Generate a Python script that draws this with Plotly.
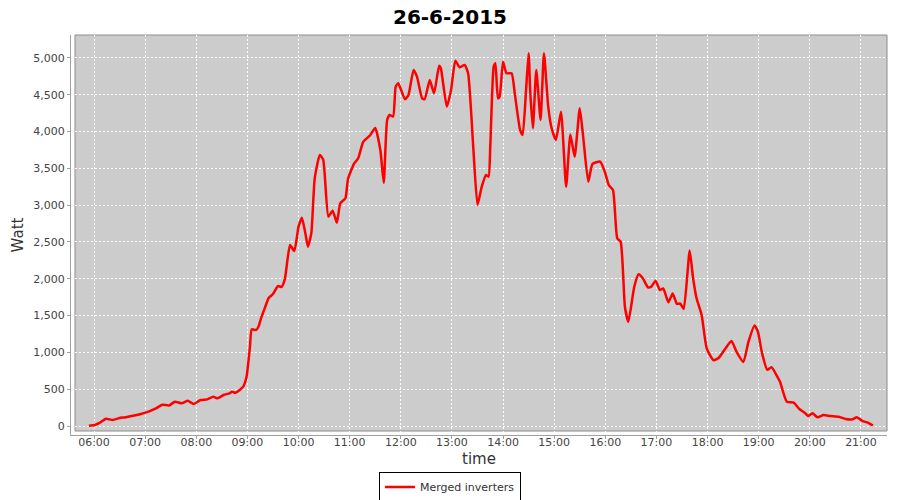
import plotly.graph_objects as go

DAY = "2015-06-26"

times = [
    "05:54", "06:01", "06:07", "06:14", "06:22", "06:31", "06:36", "06:42", "06:54",
    "07:04", "07:12", "07:20", "07:28", "07:35", "07:43", "07:50", "07:57",
    "08:05", "08:13", "08:20", "08:25", "08:32", "08:39", "08:42", "08:46", "08:51", "08:55", "08:59",
    "09:03", "09:05", "09:10", "09:13", "09:16", "09:21", "09:25", "09:30", "09:36", "09:40", "09:44", "09:50", "09:55",
    "10:00", "10:04", "10:08", "10:11", "10:15", "10:19", "10:25", "10:29", "10:35", "10:40", "10:45", "10:49", "10:55", "10:58",
    "11:05", "11:10", "11:16", "11:24", "11:30", "11:36", "11:40", "11:44", "11:47", "11:51", "11:54", "11:57",
    "12:05", "12:09", "12:15", "12:19", "12:25", "12:28", "12:34", "12:39", "12:45", "12:47", "12:54", "12:59",
    "13:04", "13:09", "13:15", "13:19", "13:25", "13:30", "13:35", "13:40", "13:43", "13:45", "13:49", "13:51", "13:54", "13:56",
    "14:00", "14:04", "14:10", "14:14", "14:20", "14:23", "14:27", "14:30", "14:32", "14:35", "14:39", "14:44", "14:48", "14:53", "14:57",
    "15:02", "15:08", "15:14", "15:19", "15:24", "15:30", "15:34", "15:40", "15:45", "15:54",
    "16:00", "16:04", "16:09", "16:14", "16:18", "16:23", "16:27", "16:34", "16:39", "16:44", "16:50", "16:54", "16:59",
    "17:04", "17:08", "17:14", "17:19", "17:24", "17:28", "17:32", "17:39", "17:43", "17:47", "17:53", "17:59",
    "18:07", "18:13", "18:21", "18:28", "18:34", "18:42", "18:48", "18:55", "18:59",
    "19:04", "19:10", "19:15", "19:20", "19:25", "19:33", "19:41", "19:48", "19:54", "19:58",
    "20:03", "20:09", "20:16", "20:24", "20:34", "20:42", "20:50", "20:55",
    "21:02", "21:08", "21:14",
]

watts = [
    5, 14, 45, 100, 82, 112, 116, 132, 160,
    195, 235, 290, 280, 330, 308, 342, 299,
    353, 362, 398, 376, 421, 444, 466, 452, 489, 534, 670,
    1077, 1313, 1304, 1349, 1463, 1621, 1740, 1793, 1902, 1890, 2000, 2459, 2378,
    2708, 2830, 2618, 2436, 2618, 3365, 3682, 3614, 2844, 2925, 2762, 3026, 3094, 3352,
    3560, 3637, 3863, 3950, 4050, 3750, 3306, 4158, 4226, 4203, 4610, 4656,
    4439, 4497, 4837, 4746, 4452, 4439, 4701, 4520, 4895, 4860, 4339, 4565,
    4963, 4873, 4905, 4792, 3795, 3003, 3251, 3410, 3387, 3795, 4882, 4928, 4452, 4474,
    4950, 4792, 4792, 4497, 4022, 3954, 4565, 5064, 4520, 4045, 4837, 4158, 5064, 4339, 4045,
    3886, 4270, 3251, 3960, 3659, 4316, 3931, 3319, 3560, 3591,
    3433, 3274, 3207, 2550, 2505, 1621, 1417, 1893, 2061, 2007, 1884, 1893, 1975,
    1848, 1870, 1680, 1800, 1660, 1663, 1590, 2385, 2007, 1740, 1510, 1054,
    893, 925, 1054, 1155, 1008, 870, 1145, 1367, 1284,
    985, 764, 800, 710, 600, 330, 317, 227, 181, 136,
    173, 118, 149, 136, 127, 95, 91, 118,
    68, 45, 5,
]

series_name = "Merged inverters"
title_text = "26-6-2015"
x_title = "time"
y_title = "Watt"

x_stamps = [f"{DAY} {t}:00" for t in times]

fig = go.Figure()
fig.add_trace(go.Scatter(
    x=x_stamps, y=watts, mode="lines", name=series_name,
    line=dict(color="#FF0000", width=2.5, shape="spline", smoothing=0.5),
    showlegend=True,
))

FONT = "DejaVu Sans"
W, H = 892, 492  # page body has an 8px margin

fig.update_layout(
    width=W, height=H,
    margin=dict(l=63, r=13, t=27, b=65),
    paper_bgcolor="white", plot_bgcolor="white",
    title=dict(text=title_text, x=442 / W, xref="container", xanchor="center",
               y=1 - 9 / H, yref="container", yanchor="middle",
               font=dict(family=FONT, size=20, color="black", weight="bold")),
    showlegend=True,
    legend=dict(orientation="h", x=442 / W, xref="container", xanchor="center",
                y=1 - 479 / H, yref="container", yanchor="middle",
                bordercolor="black", borderwidth=1, bgcolor="white",
                font=dict(family=FONT, size=11, color="#333333"),
                itemwidth=30),
    shapes=[dict(type="rect", xref="paper", yref="paper",
                 xsizemode="pixel", xanchor=0, x0=4, x1=816,
                 ysizemode="pixel", yanchor=0, y0=4, y1=400,
                 fillcolor="#CCCCCC", line=dict(color="#8C8C8C", width=1),
                 layer="below")],
)

fig.update_xaxes(
    type="date",
    range=[f"{DAY} 05:33:00", f"{DAY} 21:30:33"],
    tick0=f"{DAY} 00:00:00", dtick=3600000, tickformat="%H:%M",
    showline=True, linecolor="#A0A0A0", linewidth=1,
    ticks="outside", ticklen=3, tickcolor="#A0A0A0",
    ticklabelstandoff=-6,
    showgrid=True, gridcolor="white", gridwidth=1, griddash="2px,2px",
    zeroline=False,
    tickfont=dict(family=FONT, size=11, color="#444444"),
    title=dict(text=x_title, font=dict(family=FONT, size=15, color="#333333"), standoff=5),
    automargin=False,
)
fig.update_yaxes(
    range=[-122, 5312],
    tick0=0, dtick=500, tickformat=",d",
    showline=True, linecolor="#A0A0A0", linewidth=1,
    ticks="outside", ticklen=3, tickcolor="#A0A0A0",
    showgrid=True, gridcolor="white", gridwidth=1, griddash="2px,2px",
    zeroline=False,
    tickfont=dict(family=FONT, size=11, color="#444444"),
    title=dict(text=y_title, font=dict(family=FONT, size=15, color="#333333"), standoff=6),
    automargin=False,
)

fig.write_html("out.html")
